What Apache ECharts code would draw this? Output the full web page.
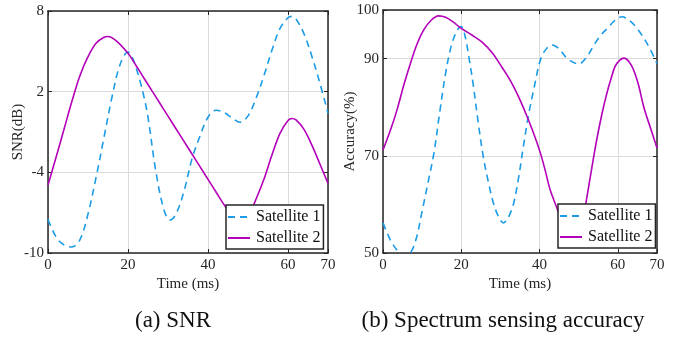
<!DOCTYPE html>
<html>
<head>
<meta charset="utf-8">
<script src="https://cdn.jsdelivr.net/npm/echarts@6/dist/echarts.min.js"></script>
<style>
html,body{margin:0;padding:0;background:#fff;}
#c{width:685px;height:337px;}
</style>
</head>
<body>
<div id="c"></div>
<script>
// ---- data ----
var timeTicks = [0, 20, 40, 60, 70];
var snrTicks = [-10, -4, 2, 8];
var accTicks = [50, 70, 90, 100];
var seriesNames = ['Satellite 1', 'Satellite 2'];

var snrT1 = [0,2,4,6,8,10,12,14,16,18,20,21,22,23,24,25,27,29,30.5,32,34,36,38,40,42,44,46,48,50,52,54,56,58,60,61,62,64,66,68,70];
var snrS1 = [-7.5,-8.8,-9.4,-9.55,-9.0,-7.1,-4.4,-1.4,1.6,4.0,4.95,4.6,3.8,2.8,1.6,0.1,-4.0,-6.8,-7.55,-7.1,-5.4,-3.0,-1.3,0.1,0.62,0.45,0.05,-0.28,0.2,1.5,3.2,5.1,6.7,7.5,7.6,7.4,6.3,4.6,2.6,0.4];

var snrT2 = [0,2,4,6,8,10,12,14,15,17,20,22,24,26,28,30,32,34,36,38,40,42,44,46,48,50,52,54,56,58,60,61,62,64,66,68,70];
var snrS2 = [-4.95,-2.9,-0.8,1.3,3.2,4.6,5.6,6.05,6.1,5.8,4.85,3.95,3.0,2.06,1.12,0.18,-0.76,-1.7,-2.64,-3.58,-4.52,-5.46,-6.4,-7.25,-7.7,-7.3,-6.0,-4.5,-2.7,-1.1,-0.15,0.0,-0.1,-0.8,-2.0,-3.4,-4.82];

var accT1 = [0,2,4,5.5,7,8.5,10,11.5,13,14.5,16,17.5,19,20,21,22,23,24.3,25.6,27,28.2,29.5,30.8,32,33.4,34.7,36,37.2,38.5,40.2,41.7,43.2,45,47,50,52,53.9,55.6,57.3,59.2,61.1,63,64.9,67.4,70];
var accS1 = [56.2,52.5,50.2,49.4,50.0,53.0,58.6,64.5,70.5,79,87,92.8,95.9,96.6,94.5,90,84.9,77,69.9,64.3,60.3,57.5,56.2,57.3,60.3,65.8,72.6,78.5,83.6,89.7,92.0,92.8,92.0,90.1,88.9,90.3,92.8,94.8,96.2,97.8,98.6,97.8,96.2,93.2,89.0];

var accT2 = [0,2,3.6,5.3,7,8.7,10.4,12.3,14.2,16,18,20,22.8,25.6,28,30,31.7,33.4,35,36.8,38.5,40.2,41.5,42.7,44.4,46,48,49.5,50.7,51.8,53.2,54.6,55.9,57.2,58.3,59.3,60.5,61.6,62.8,64,65.3,66.6,68.3,70];
var accS2 = [71.2,75.5,79.5,84.5,89,93,95.9,97.9,98.8,98.5,97.5,96.2,94.8,93.2,91.1,88.7,86.6,84.2,81.5,78.1,74.6,70.6,66.8,63,59.3,55.5,51.8,51.5,55,60.1,66.8,73.3,78.5,82.9,86,88.4,89.7,90.1,89.4,87.7,84.5,80.1,75.8,71.6];

function zip(xs, ys){ return xs.map(function(x,i){ return [x, ys[i]]; }); }

// ---- styles ----
var FONT = 'Liberation Serif';
var INK = '#262626';
var C1 = '#1c9ce6';
var C2 = '#b400b8';

function xAxisMain(gi){
  return {
    type:'value', gridIndex:gi, min:timeTicks[0], max:timeTicks[timeTicks.length-1], interval:timeTicks[1]-timeTicks[0],
    name:'Time (ms)', nameLocation:'middle', nameGap:24, nameMoveOverlap:false,
    nameTextStyle:{fontFamily:FONT, fontSize:15, color:INK},
    axisLine:{show:true, onZero:false, lineStyle:{color:INK, width:1.5}},
    axisTick:{show:true, inside:true, length:4, lineStyle:{color:INK}},
    axisLabel:{fontFamily:FONT, fontSize:15, color:INK, margin:5, showMinLabel:true, showMaxLabel:true},
    splitLine:{show:true, lineStyle:{color:'#dadada', width:1}}
  };
}
function xAxisMirror(gi){
  return {
    type:'value', gridIndex:gi, position:'top', min:timeTicks[0], max:timeTicks[timeTicks.length-1], interval:timeTicks[1]-timeTicks[0],
    axisLine:{show:true, onZero:false, lineStyle:{color:INK, width:1.5}},
    axisTick:{show:true, inside:true, length:4, lineStyle:{color:INK}},
    axisLabel:{show:false}, splitLine:{show:false}
  };
}
function yAxisMain(gi, ticks, name, gap){
  return {
    type:'value', gridIndex:gi, min:ticks[0], max:ticks[ticks.length-1], interval:ticks[1]-ticks[0],
    name:name, nameLocation:'middle', nameGap:gap, nameMoveOverlap:false,
    nameTextStyle:{fontFamily:FONT, fontSize:15, color:INK},
    axisLine:{show:true, onZero:false, lineStyle:{color:INK, width:1.5}},
    axisTick:{show:true, inside:true, length:4, lineStyle:{color:INK}},
    axisLabel:{fontFamily:FONT, fontSize:15, color:INK, margin:4, showMinLabel:true, showMaxLabel:true},
    splitLine:{show:true, lineStyle:{color:'#dadada', width:1}}
  };
}
function yAxisMirror(gi, ticks){
  return {
    type:'value', gridIndex:gi, position:'right', min:ticks[0], max:ticks[ticks.length-1], interval:ticks[1]-ticks[0],
    axisLine:{show:true, onZero:false, lineStyle:{color:INK, width:1.5}},
    axisTick:{show:true, inside:true, length:4, lineStyle:{color:INK}},
    axisLabel:{show:false}, splitLine:{show:false}
  };
}
function lineSeries(name, xi, yi, data, color, dashed){
  return {
    type:'line', name:name, xAxisIndex:xi, yAxisIndex:yi, data:data,
    smooth:0.35, symbol:'none', clip:true, animation:false,
    lineStyle:{color:color, width:1.6, type: dashed ? [7,5] : 'solid'},
    itemStyle:{color:color}
  };
}
function legendAt(left, top){
  return {
    left:left, top:top, orient:'vertical', itemWidth:22, itemHeight:14, itemGap:5, itemStyle:{opacity:0},
    padding:[4,3,3,1], borderColor:INK, borderWidth:1.5, backgroundColor:'#fff', borderRadius:0,
    textStyle:{fontFamily:FONT, fontSize:16, color:'#111', padding:[0,0,0,1]},
    data:seriesNames, selectedMode:false, z:10
  };
}

var chart = echarts.init(document.getElementById('c'), null, {renderer:'canvas'});
chart.setOption({
  animation:false,
  backgroundColor:'#fff',
  grid:[
    {left:48, top:11, width:280, height:242, show:false},
    {left:383, top:10, width:274, height:243, show:false}
  ],
  xAxis:[ xAxisMain(0), xAxisMirror(0), xAxisMain(1), xAxisMirror(1) ],
  yAxis:[ yAxisMain(0, snrTicks, 'SNR(dB)', 22), yAxisMirror(0, snrTicks), yAxisMain(1, accTicks, 'Accuracy(%)', 25), yAxisMirror(1, accTicks) ],
  legend:[ legendAt(226, 205), legendAt(558, 204) ],
  series:[
    lineSeries(seriesNames[0], 0, 0, zip(snrT1, snrS1), C1, true),
    lineSeries(seriesNames[1], 0, 0, zip(snrT2, snrS2), C2, false),
    lineSeries(seriesNames[0], 2, 2, zip(accT1, accS1), C1, true),
    lineSeries(seriesNames[1], 2, 2, zip(accT2, accS2), C2, false)
  ],
  graphic:[
    {type:'text', x:173, y:321, style:{text:'(a) SNR', font:'23px "Liberation Serif"', fill:'#111', textAlign:'center', textVerticalAlign:'middle'}},
    {type:'text', x:503, y:321, style:{text:'(b) Spectrum sensing accuracy', font:'23px "Liberation Serif"', fill:'#111', textAlign:'center', textVerticalAlign:'middle'}}
  ]
});
</script>
</body>
</html>
